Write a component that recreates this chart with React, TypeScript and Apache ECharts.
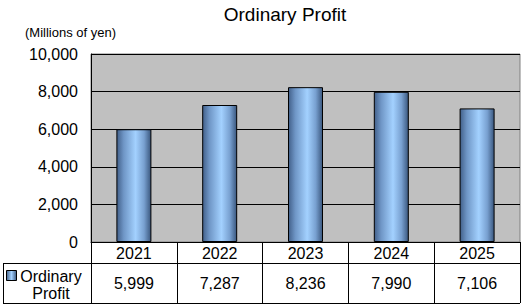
import React, { useEffect, useRef } from "react";
import * as echarts from "echarts";

const years = ["2021", "2022", "2023", "2024", "2025"];
const profits = [5999, 7287, 8236, 7990, 7106];
const seriesName = "Ordinary Profit";
const titleText = "Ordinary Profit";
const unitText = "(Millions of yen)";

const FONT = "Liberation Sans, Arial, sans-serif";

export default function App() {
  const ref = useRef<HTMLDivElement>(null);
  useEffect(() => {
    const chart = echarts.init(ref.current!, null, { renderer: "svg" });
    const fmt = (v: number) => v.toLocaleString("en-US");
    const barGrad = new echarts.graphic.LinearGradient(0, 0, 1, 0, [
      { offset: 0, color: "#42608a" },
      { offset: 0.2, color: "#6f96c6" },
      { offset: 0.55, color: "#a3d1ff" },
      { offset: 0.8, color: "#78a0d0" },
      { offset: 1, color: "#3a577e" },
    ]);
    const iconGrad = new echarts.graphic.LinearGradient(0, 0, 1, 0, [
      { offset: 0, color: "#46648a" },
      { offset: 0.5, color: "#a3d1ff" },
      { offset: 1, color: "#3b5880" },
    ]);
    chart.setOption({
      animation: false,
      textStyle: { fontFamily: FONT },
      grid: {
        left: 91,
        right: 5,
        top: 54,
        bottom: 65,
        show: true,
        backgroundColor: "#C0C0C0",
        borderColor: "#808080",
        borderWidth: 1,
      },
      xAxis: [
        {
          type: "category",
          data: years,
          position: "bottom",
          axisLine: { show: true, lineStyle: { color: "#000", width: 1 } },
          axisTick: { show: true, length: 61, alignWithLabel: false, lineStyle: { color: "#000" } },
          axisLabel: { margin: 3, fontSize: 16, color: "#000", fontFamily: FONT },
        },
        {
          type: "category",
          data: profits.map(fmt),
          position: "bottom",
          offset: 21,
          axisLine: { show: false },
          axisTick: { show: false },
          axisLabel: { margin: 12, fontSize: 16, color: "#000", fontFamily: FONT },
        },
      ],
      yAxis: {
        type: "value",
        min: 0,
        max: 10000,
        interval: 2000,
        axisLine: { show: true, lineStyle: { color: "#000" } },
        axisTick: { show: false },
        axisLabel: {
          margin: 13,
          fontSize: 16,
          color: "#000",
          fontFamily: FONT,
          formatter: (v: number) => fmt(v),
        },
        splitLine: { show: true, lineStyle: { color: "#000", width: 1 } },
      },
      series: [
        {
          name: seriesName,
          type: "bar",
          xAxisIndex: 0,
          data: profits,
          barWidth: 35,
          itemStyle: { color: barGrad, borderColor: "#000", borderWidth: 1 },
        },
      ],
      graphic: [
        {
          type: "text",
          x: 285,
          y: 14,
          style: {
            text: titleText,
            fontSize: 19,
            fontFamily: FONT,
            fill: "#000",
            align: "center",
            verticalAlign: "middle",
          },
        },
        {
          type: "text",
          x: 25,
          y: 32,
          style: {
            text: unitText,
            fontSize: 13,
            fontFamily: FONT,
            fill: "#000",
            align: "left",
            verticalAlign: "middle",
          },
        },
        { type: "line", shape: { x1: 3, y1: 263.5, x2: 520, y2: 263.5 }, style: { stroke: "#000", lineWidth: 1 } },
        { type: "line", shape: { x1: 3, y1: 303.5, x2: 520, y2: 303.5 }, style: { stroke: "#000", lineWidth: 1 } },
        { type: "line", shape: { x1: 3.5, y1: 263, x2: 3.5, y2: 304 }, style: { stroke: "#000", lineWidth: 1 } },
        {
          type: "rect",
          shape: { x: 6.5, y: 270.5, width: 10, height: 10 },
          style: { fill: iconGrad, stroke: "#000", lineWidth: 1 },
        },
        {
          type: "text",
          x: 51,
          y: 276,
          style: {
            text: "Ordinary",
            fontSize: 16,
            fontFamily: FONT,
            fill: "#000",
            align: "center",
            verticalAlign: "middle",
          },
        },
        {
          type: "text",
          x: 51,
          y: 293,
          style: {
            text: "Profit",
            fontSize: 16,
            fontFamily: FONT,
            fill: "#000",
            align: "center",
            verticalAlign: "middle",
          },
        },
      ],
    });
    return () => chart.dispose();
  }, []);
  return (
    <div
      ref={ref}
      style={{ width: 525, height: 307, position: "absolute", left: 0, top: 0 }}
    />
  );
}
